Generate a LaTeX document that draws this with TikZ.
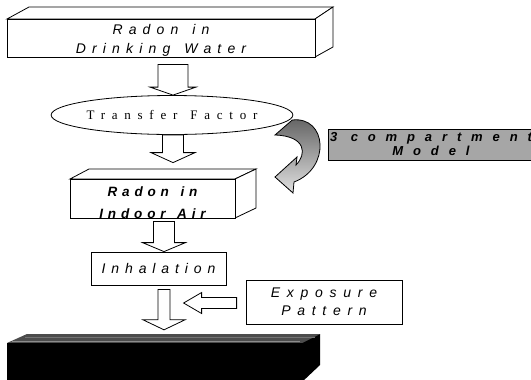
\documentclass[tikz,border=0pt]{standalone}
\usepackage{fontspec}
\setmainfont{Liberation Sans}
\newfontfamily\lsans{Liberation Sans}
\newfontfamily\lserif{Liberation Serif}
\usetikzlibrary{shapes.geometric,calc}

\tikzset{
  face/.style={draw=black, line width=0.8bp, fill=white},
  frontbox/.style={face, rectangle, inner sep=0pt, align=center},
  blockarrow/.style={draw=black, line width=0.8bp, fill=white, line join=miter},
  itxt/.style={font=\lsans\fontsize{14bp}{19bp}\selectfont\itshape\addfontfeature{LetterSpace=#1}},
  bitxt/.style={font=\lsans\fontsize{13.5bp}{22bp}\selectfont\bfseries\itshape\addfontfeature{LetterSpace=#1}},
  plaintext/.style={inner sep=0pt, align=center},
}

% straight block arrow pointing down: #1 start anchor, #2 tip,
% #3 gap below start, #4 half shaft width, #5 half head width, #6 head length
\newcommand\dnarrow[6]{%
  \draw[blockarrow] let \p1=(#1), \p2=(#2) in
    (\x2-#4,\y1-#3) -- (\x2-#4,\y2+#6) -- (\x2-#5,\y2+#6) -- (\x2,\y2)
    -- (\x2+#5,\y2+#6) -- (\x2+#4,\y2+#6) -- (\x2+#4,\y1-#3) -- cycle;}

% straight block arrow pointing left (same arguments)
\newcommand\lfarrow[6]{%
  \draw[blockarrow] let \p1=(#1), \p2=(#2) in
    (\x1-#3,\y2+#4) -- (\x2+#6,\y2+#4) -- (\x2+#6,\y2+#5) -- (\x2,\y2)
    -- (\x2+#6,\y2-#5) -- (\x2+#6,\y2-#4) -- (\x1-#3,\y2-#4) -- cycle;}

\begin{document}
\begin{tikzpicture}[x=1bp,y=-1bp]
\clip (0,0) rectangle (531,379);
\fill[white] (0,0) rectangle (531,379);

% ---- source box: radon in drinking water
\draw[face] (7,19) -- (29,7) -- (333,7) -- (315,19) -- cycle;
\draw[face] (315,19) -- (333,7) -- (333,47) -- (315,57) -- cycle;
\node[frontbox, minimum width=308bp, minimum height=38bp] (water) at (161,38) {};
\node[plaintext, itxt=44] (watertext) at ([yshift=-2.5bp]water.center)
  {Radon\hspace{4bp} in\\Drinking\hspace{4bp} Water};

% ---- transfer factor
\node[ellipse, draw=black, line width=0.8bp, fill=white, inner sep=0pt,
      minimum width=208bp, minimum height=39bp,
      font=\lserif\fontsize{13bp}{15bp}\selectfont\addfontfeature{LetterSpace=52}]
  (tf) at (172,115) {Transfer\hspace{3bp} Factor};

% ---- indoor air box
\draw[face] (70,179) -- (89,169) -- (256,169) -- (235,179) -- cycle;
\draw[face] (235,179) -- (256,169) -- (256,208) -- (235,218) -- cycle;
\node[frontbox, minimum width=165bp, minimum height=39bp] (indoor) at (152.5,198.5) {};
\node[plaintext, bitxt=36] (indoortext) at ([yshift=-4.5bp]indoor.center)
  {Radon\hspace{3bp} in\\Indoor\hspace{3bp} Air};

% ---- inhalation
\node[frontbox, minimum width=135bp, minimum height=33bp, itxt=42]
  (inh) at (158.5,268.5) {Inhalation};

% ---- exposure pattern
\node[frontbox, minimum width=156bp, minimum height=44bp, itxt=48]
  (expo) at (324,302) {Exposure\\[-1bp]Pattern\hspace{12bp}};

% ---- compartment model
\node[draw=black, line width=0.8bp, fill=black!35, inner sep=0pt,
      minimum width=206bp, minimum height=31bp, align=center,
      font=\lsans\fontsize{13bp}{14bp}\selectfont\bfseries\itshape\addfontfeature{LetterSpace=76}]
  (comp) at (431,144.5) {3 compartment\\Model\hspace{60bp}};

% ---- outcome box (dark)
\fill[black!70] (7,343) -- (27,334) -- (320,334) -- (302,343) -- cycle;
\fill[black] (302,343) -- (320,334) -- (320,365) -- (302,382) -- cycle;
\node[rectangle, fill=black, inner sep=0pt, minimum width=295bp,
      minimum height=40bp] (outcome) at (154.5,363) {};
\draw[black!45, line width=0.6bp] (12,341) -- (300,341);
\draw[black!55, line width=0.5bp] (25,337) -- (315,337);

% ---- block arrows between stages
\dnarrow{water.south}{[xshift=1bp]tf.north}{7bp}{15bp}{23bp}{8bp}
\dnarrow{tf.south}{[shift={(20.5,-16)}]indoor.north}{0bp}{10.5bp}{22bp}{10bp}
\dnarrow{indoor.south}{[xshift=5.5bp]inh.north}{3bp}{10.5bp}{21.5bp}{9bp}
\dnarrow{inh.south}{[shift={(9.5,-13)}]outcome.north}{4bp}{6bp}{21bp}{10bp}
\lfarrow{expo.west}{[shift={(-62,1)}]expo.west}{9bp}{5.5bp}{10.5bp}{18bp}

% ---- curved feedback arrow from transfer factor into indoor air
\coordinate (fbstart) at ([shift={(-1,5)}]tf.east);
\shade[top color=black!62, bottom color=black!12, draw=black, line width=0.8bp,
       line join=miter]
  (fbstart)
  .. controls (327,116) and (331,168) .. (294,182)   % outer edge
  -- (293,193)                                       % head, lower corner
  -- (275,177)                                       % tip
  -- (297,157)                                       % head, upper corner
  -- (296,165)                                       % inner edge starts
  .. controls (307,154) and (306,136) .. (275,135)
  -- cycle;
\end{tikzpicture}
\end{document}
